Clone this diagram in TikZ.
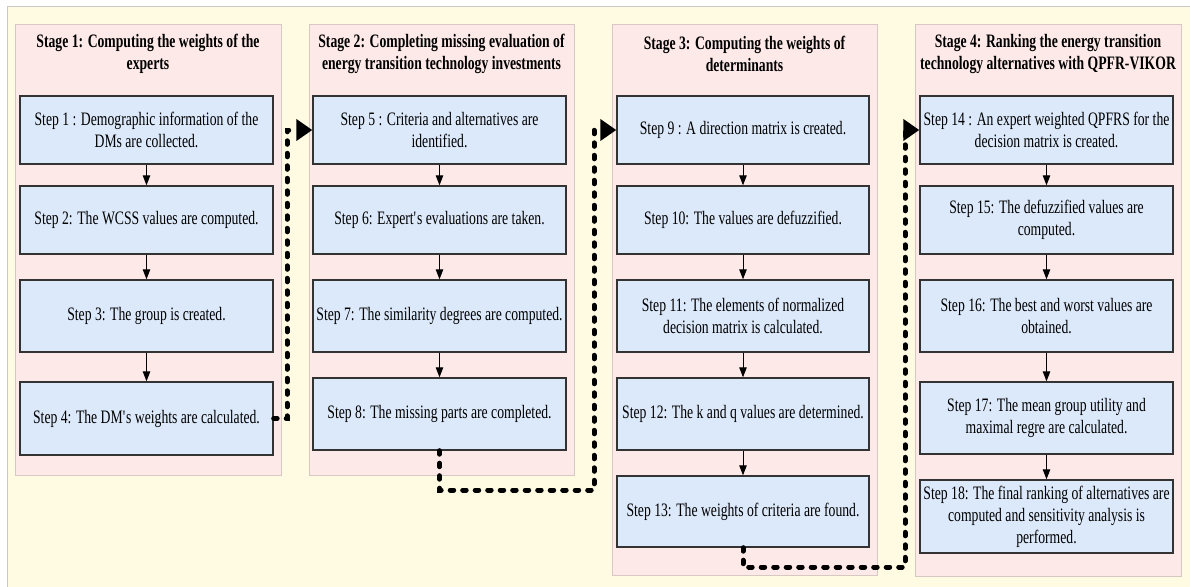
\documentclass[tikz,border=0pt]{standalone}
\usepackage{fontspec}
\setmainfont{Liberation Serif}[FakeStretch=0.72]
\usetikzlibrary{arrows.meta}
\definecolor{bgcream}{HTML}{FFFBE2}
\definecolor{panelpink}{HTML}{FDEAE8}
\definecolor{panelline}{HTML}{D8C8C2}
\definecolor{boxblue}{HTML}{DCE9FA}
\definecolor{boxline}{HTML}{333333}
\definecolor{frameline}{HTML}{C8C8C8}
\tikzset{
  panel/.style={fill=panelpink, draw=panelline, line width=0.8pt},
  stepbox/.style={draw=boxline, fill=boxblue, line width=1.4pt, minimum width=253pt, align=center, inner sep=0pt, font=\fontsize{19}{22}\selectfont},
  stagetitle/.style={align=center, inner sep=0pt, font=\fontsize{19}{22}\selectfont\bfseries},
  flow/.style={draw=black, line width=1pt, -{Triangle[length=10pt,width=7.5pt]}},
  jump/.style={draw=black, line width=5pt, line cap=round, dash pattern=on 3.5pt off 9pt, -{Triangle[length=16pt,width=21pt]}}
}
\begin{document}
\begin{tikzpicture}[x=1pt,y=-1pt]
\useasboundingbox (0,0) rectangle (1190,586);
\fill[white] (0,0) rectangle (1190,586);
\draw[fill=bgcream, draw=frameline, line width=1pt] (7,7) rectangle (1200,600);
% panels
\draw[panel] (15,24) rectangle (281,475);
\draw[panel] (309,24) rectangle (574,475);
\draw[panel] (612,24) rectangle (877,575);
\draw[panel] (915,24) rectangle (1181,576);
% titles
\node[stagetitle] (t1) at (148,54) {Stage 1: Computing the weights of the\\experts};
\node[stagetitle] (t2) at (441.5,54) {Stage 2: Completing missing evaluation of\\energy transition technology investments};
\node[stagetitle] (t3) at (744.5,54) {Stage 3: Computing the weights of\\determinants};
\node[stagetitle] (t4) at (1048,54) {Stage 4: Ranking the energy transition\\technology alternatives with QPFR-VIKOR};
% stage 1
\node[stepbox, minimum height=68pt] (s1) at (146.5,130) {Step 1 : Demographic information of the\\DMs are collected.};
\node[stepbox, minimum height=68pt] (s2) at (146.5,220) {Step 2: The WCSS values are computed.};
\node[stepbox, minimum height=72pt] (s3) at (146.5,316) {Step 3: The group is created.};
\node[stepbox, minimum height=73pt] (s4) at (146.5,418.5) {Step 4: The DM\textquotesingle s weights are calculated.};
% stage 2
\node[stepbox, minimum height=68pt] (s5) at (439.5,130) {Step 5 : Criteria and alternatives are\\identified.};
\node[stepbox, minimum height=68pt] (s6) at (439.5,220) {Step 6: Expert\textquotesingle s evaluations are taken.};
\node[stepbox, minimum height=72pt] (s7) at (439.5,316) {Step 7: The similarity degrees are computed.};
\node[stepbox, minimum height=72pt] (s8) at (439.5,414) {Step 8: The missing parts are completed.};
% stage 3
\node[stepbox, minimum width=252pt, minimum height=68pt] (s9) at (743,130) {Step 9 : A direction matrix is created.};
\node[stepbox, minimum width=252pt, minimum height=68pt] (s10) at (743,220) {Step 10: The values are defuzzified.};
\node[stepbox, minimum width=252pt, minimum height=72pt] (s11) at (743,316) {Step 11: The elements of normalized\\decision matrix is calculated.};
\node[stepbox, minimum width=252pt, minimum height=72pt] (s12) at (743,414) {Step 12: The k and q values are determined.};
\node[stepbox, minimum width=252pt, minimum height=71pt] (s13) at (743,511.5) {Step 13: The weights of criteria are found.};
% stage 4
\node[stepbox, minimum height=68pt] (s14) at (1046.5,130) {Step 14 : An expert weighted QPFRS for the\\decision matrix is created.};
\node[stepbox, minimum height=68pt] (s15) at (1046.5,220) {Step 15: The defuzzified values are\\computed.};
\node[stepbox, minimum height=72pt] (s16) at (1046.5,316) {Step 16: The best and worst values are\\obtained.};
\node[stepbox, minimum height=72pt] (s17) at (1046.5,418) {Step 17: The mean group utility and\\maximal regre are calculated.};
\node[stepbox, minimum height=73pt] (s18) at (1046.5,516.5) {Step 18: The final ranking of alternatives are\\computed and sensitivity analysis is\\performed.};
% flows
\foreach \a/\b in {s1/s2,s2/s3,s3/s4,s5/s6,s6/s7,s7/s8,s9/s10,s10/s11,s11/s12,s12/s13,s14/s15,s15/s16,s16/s17,s17/s18}
  \draw[flow] (\a.south) -- (\b.north);
% dashed connectors
\coordinate (c1) at (287,418.5);
\draw[jump] (s4.east) -- (c1) |- (s5.west);
\coordinate (c2a) at (439.5,490);
\coordinate (c2b) at (594,490);
\draw[jump] (s8.south) -- (c2a) -- (c2b) |- (s9.west);
\coordinate (c3a) at (743,567);
\coordinate (c3b) at (905,567);
\draw[jump] (s13.south) -- (c3a) -- (c3b) |- (s14.west);
\end{tikzpicture}
\end{document}
